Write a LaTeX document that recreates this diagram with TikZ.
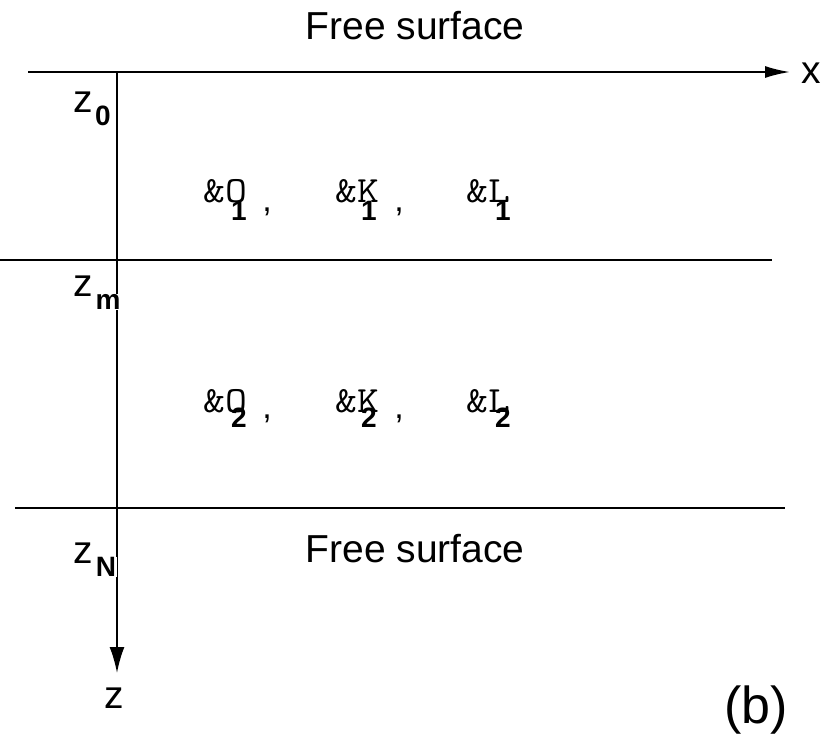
\documentclass[tikz,border=0pt]{standalone}
\usepackage{fontspec}
\setmainfont{Liberation Sans}
\newfontfamily\grkfont[FakeStretch=1.15]{Latin Modern Mono}
\usetikzlibrary{arrows.meta}
\tikzset{
  axis/.style={line width=2pt},
  lbl/.style={font=\fontsize{39}{42}\selectfont, inner sep=0pt},
  idx/.style={font=\fontsize{28}{30}\selectfont\bfseries, fill=white, inner sep=0.5pt},
  grk/.style={font=\grkfont\fontsize{37}{40}\selectfont, inner sep=0pt, anchor=base west},
  cma/.style={font=\fontsize{34}{36}\selectfont, inner sep=0pt}
}
\begin{document}
\begin{tikzpicture}[x=1pt,y=-1pt]
  \useasboundingbox (0,0) rectangle (836,740);
  % axes
  \coordinate (xl) at (28,72);
  \coordinate (xr) at (790,72);
  \coordinate (zt) at (117,72);
  \coordinate (zb) at (117,673);
  \draw[axis,-{Latex[length=25pt,width=12pt]}] (xl) -- (xr);
  \draw[axis,-{Latex[length=26pt,width=15pt]}] (zt) -- (zb);
  \node[lbl] (xlab) at (811,73) {x};
  \node[lbl] (zlab) at (114,698) {z};
  % interfaces
  \coordinate (ml) at (0,260);
  \coordinate (mr) at (772,260);
  \coordinate (bl) at (15,508);
  \coordinate (br) at (785,508);
  \draw[axis] (ml) -- (mr);
  \draw[axis] (bl) -- (br);
  \node[lbl] (ftop) at (415,26) {Free surface};
  \node[lbl] (fbot) at (415,549) {Free surface};
  % levels
  \node[lbl] (z0) at (83,102) {z};
  \node[idx] (z0i) at (103,116) {0};
  \node[lbl] (zm) at (83,286) {z};
  \node[idx] (zmi) at (108,302) {m};
  \node[lbl] (zn) at (83,553) {z};
  \node[idx] (zni) at (106,567) {N};
  % layer 1
  \node[grk] (o1) at (203,202) {\&O};
  \node[grk] (k1) at (335,202) {\&K};
  \node[grk] (l1) at (466,202) {\&L};
  \node[idx,fill=none] (o1i) at (239,211) {1};
  \node[idx,fill=none] (k1i) at (369,211) {1};
  \node[idx,fill=none] (l1i) at (503,211) {1};
  \node[cma] (c1a) at (267,212) {,};
  \node[cma] (c1b) at (399,212) {,};
  % layer 2
  \node[grk] (o2) at (203,412) {\&O};
  \node[grk] (k2) at (335,412) {\&K};
  \node[grk] (l2) at (466,412) {\&L};
  \node[idx,fill=none] (o2i) at (239,418) {2};
  \node[idx,fill=none] (k2i) at (369,418) {2};
  \node[idx,fill=none] (l2i) at (503,418) {2};
  \node[cma] (c2a) at (267,419) {,};
  \node[cma] (c2b) at (399,419) {,};
  \node[font=\fontsize{52}{56}\selectfont, inner sep=0pt] (tag) at (756,710) {(b)};
\end{tikzpicture}
\end{document}
